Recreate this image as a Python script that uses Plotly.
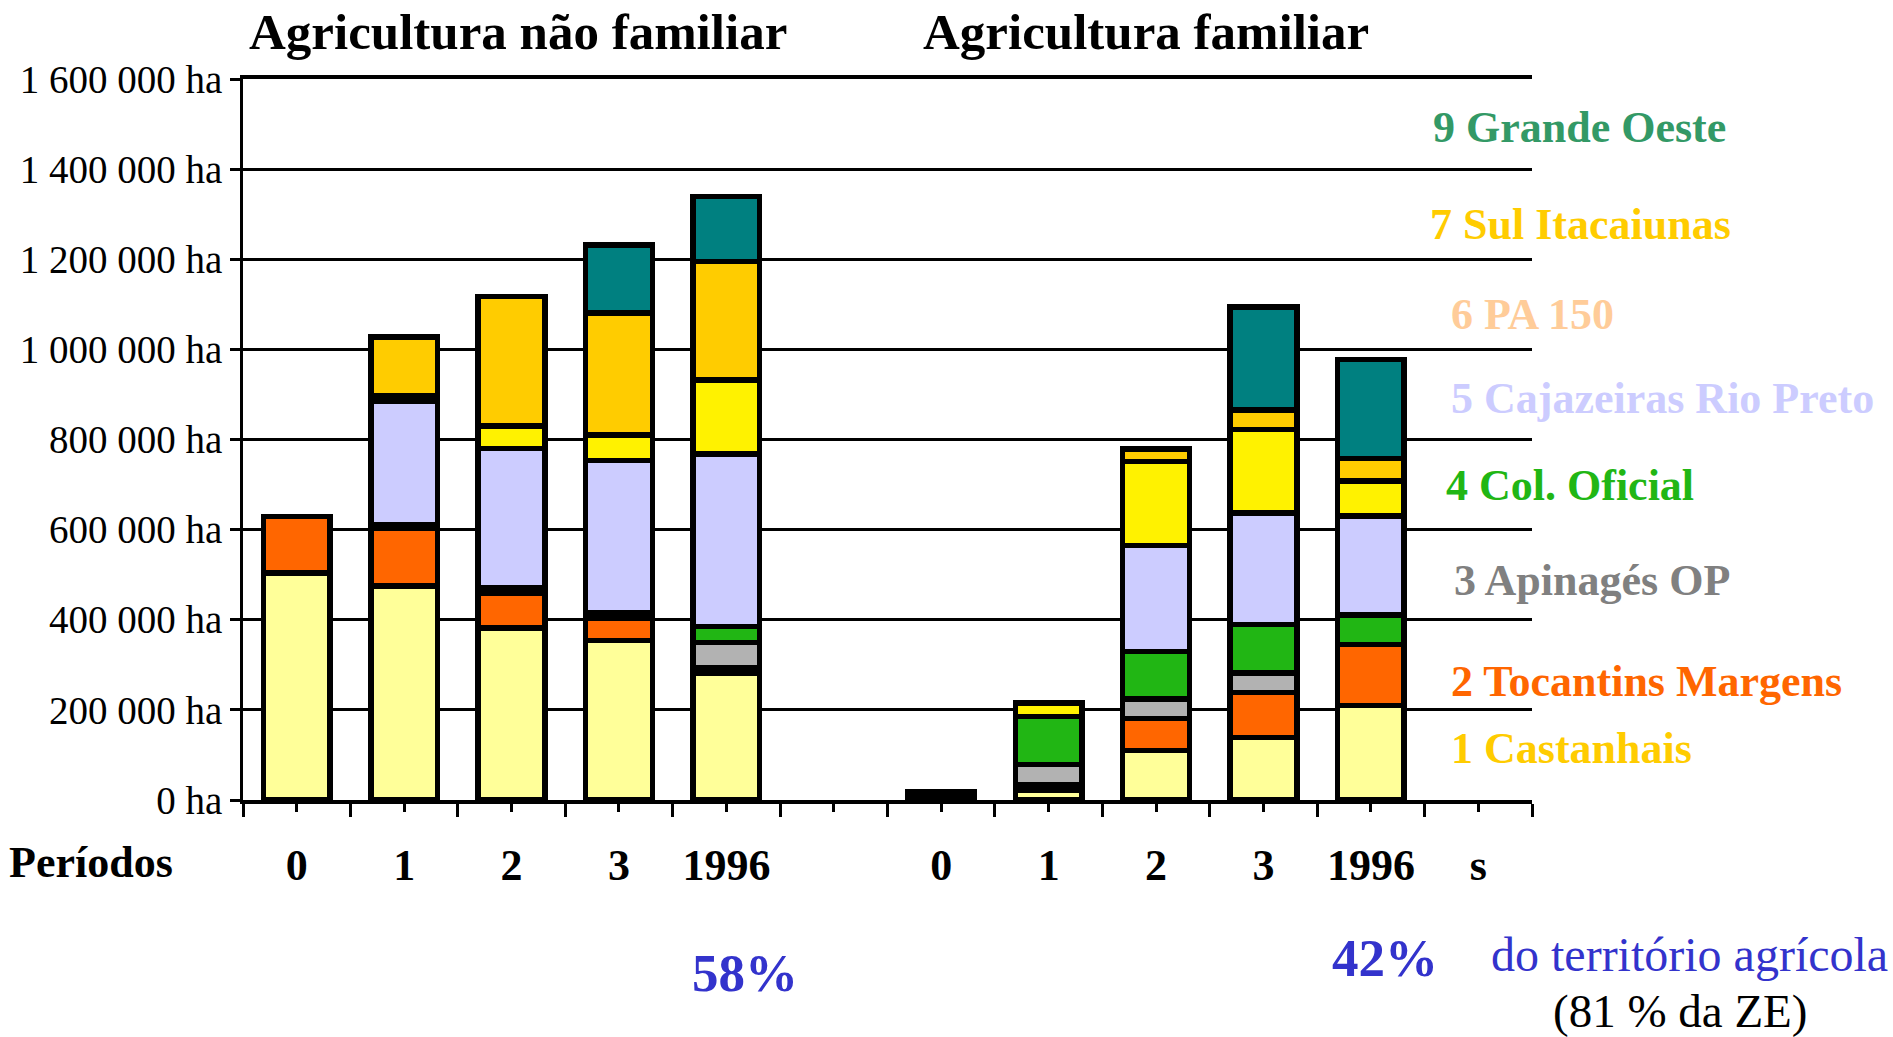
import plotly.graph_objects as go

# categories: two groups of periods, one empty slot between them, "s" at the end
period_labels = ["0", "1", "2", "3", "1996", "", "0", "1", "2", "3", "1996", "s"]
x_pos = list(range(len(period_labels)))

zone_names = [
    "1 Castanhais", "2 Tocantins Margens", "3 Apinagés OP", "4 Col. Oficial",
    "5 Cajazeiras Rio Preto", "6 PA 150", "7 Sul Itacaiunas", "9 Grande Oeste",
]

# hectares per zone, per slot (first 5 = não familiar, next 5 = familiar)
castanhais = [504000, 475000, 382000, 354000, 282000, 0, 5000, 22000, 110000, 139000, 210000, 0]
tocantins = [125000, 128000, 77000, 49000, 12000, 0, 5000, 12000, 71000, 100000, 135000, 0]
apinages = [0, 0, 0, 0, 55000, 0, 4000, 45000, 43000, 43000, 0, 0]
col_oficial = [0, 7000, 11000, 12000, 36000, 0, 4500, 106000, 106000, 107000, 65000, 0]
cajazeiras = [0, 276000, 310000, 338000, 383000, 0, 0, 0, 235000, 248000, 220000, 0]
pa150 = [0, 12000, 50000, 57000, 164000, 0, 0, 30000, 186000, 185000, 78000, 0]
sul_itacaiunas = [0, 129000, 287000, 271000, 263000, 0, 0, 0, 28000, 43000, 50000, 0]
grande_oeste = [0, 0, 0, 151000, 144000, 0, 0, 0, 0, 229000, 219000, 0]

series = [castanhais, tocantins, apinages, col_oficial, cajazeiras, pa150, sul_itacaiunas, grande_oeste]

bar_colors = ["#FFFF99", "#FF6600", "#B2B2B2", "#21B614", "#CCCCFF", "#FFF200", "#FFCC00", "#008080"]
label_colors = ["#FFCC00", "#FF6600", "#808080", "#21B614", "#CCCCFF", "#FFCC99", "#FFCC00", "#339966"]

y_ticks = list(range(0, 1600001, 200000))
y_ticktext = [f"{v:,}".replace(",", " ") + " ha" for v in y_ticks]

# page layout (pixels)
W, H = 1893, 1037
PLOT_L, PLOT_R, PLOT_T, PLOT_B = 243, 1532, 79, 800
FONT = "Liberation Serif"
BLUE = "#3333CC"


def paper(px, py):
    return (px - PLOT_L) / (PLOT_R - PLOT_L), (PLOT_B - py) / (PLOT_B - PLOT_T)


fig = go.Figure()
for name, vals, color in zip(zone_names, series, bar_colors):
    fig.add_trace(go.Bar(
        x=x_pos, y=[v if v else None for v in vals], name=name, width=0.62,
        marker=dict(color=color, line=dict(color="black", width=5.5)),
        showlegend=False,
        hovertemplate=name + ": %{y:,d} ha<extra></extra>",
    ))

annotations = []


def add_text(text, px, py, size, color="black", bold=False, xanchor="center"):
    x, y = paper(px, py)
    annotations.append(dict(
        text=f"<b>{text}</b>" if bold else text,
        x=x, y=y, xref="paper", yref="paper", xanchor=xanchor, yanchor="middle",
        showarrow=False, font=dict(family=FONT, size=size, color=color),
    ))


add_text("Agricultura não familiar", 518, 32, 51, bold=True)
add_text("Agricultura familiar", 1146, 32, 51, bold=True)
add_text("Períodos", 91, 862, 44, bold=True)
add_text("58%", 745, 973, 53, color=BLUE, bold=True)
add_text("42%", 1385, 958, 53, color=BLUE, bold=True)
add_text("do território agrícola", 1689, 955, 48, color=BLUE)
add_text("(81 % da ZE)", 1680, 1011, 47)

# zone labels at the right of the plot
label_pos = [(1449, 748), (1449, 681), (1452, 580), (1444, 485),
             (1449, 398), (1449, 314), (1428, 224), (1431, 128)]
for name, color, (px, py) in zip(zone_names, label_colors, label_pos):
    add_text(name, px, py, 44, color=color, bold=True, xanchor="left")

fig.update_layout(
    barmode="stack",
    width=W, height=H,
    margin=dict(l=PLOT_L, r=W - PLOT_R, t=PLOT_T, b=H - PLOT_B),
    plot_bgcolor="white", paper_bgcolor="white",
    font=dict(family=FONT, color="black"),
    annotations=annotations,
    xaxis=dict(
        range=[-0.5, len(period_labels) - 0.5],
        tickvals=x_pos, ticktext=period_labels,
        tickfont=dict(family=FONT, size=44, weight="bold", color="black"),
        ticks="outside", ticklen=8, tickwidth=2.5, tickcolor="black",
        ticklabelstandoff=15,
        minor=dict(tickvals=[i - 0.5 for i in range(len(period_labels) + 1)],
                   ticks="outside", ticklen=13, tickwidth=2.5, tickcolor="black"),
        showline=True, linewidth=3.5, linecolor="black", mirror=True,
        showgrid=False, zeroline=False, fixedrange=True,
    ),
    yaxis=dict(
        range=[0, 1600000], tickvals=y_ticks, ticktext=y_ticktext,
        tickfont=dict(family=FONT, size=39, color="black"),
        ticks="outside", ticklen=10, tickwidth=2.5, tickcolor="black",
        showline=True, linewidth=3, linecolor="black",
        showgrid=True, gridcolor="black", gridwidth=2.5,
        zeroline=False, fixedrange=True,
    ),
)

# the page body has a default 8px margin; drop it so the figure fills the window
fig.write_html("out.html", config={"displayModeBar": False},
               post_script="document.body.style.margin = '0px';")
